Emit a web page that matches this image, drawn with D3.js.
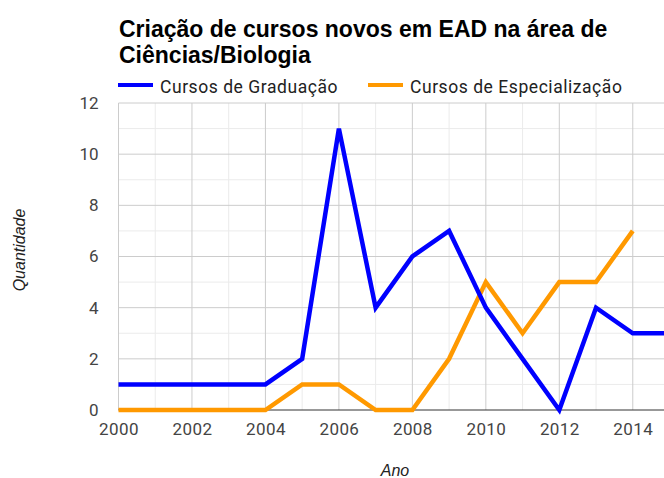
<!DOCTYPE html>
<html><head><meta charset="utf-8">
<script src="https://cdn.jsdelivr.net/npm/d3@7"></script>
<style>body{margin:0;background:#fff;overflow:hidden}svg{display:block}text{font-family:"Liberation Sans",Arial,sans-serif}</style>
</head><body><svg id="c" width="664" height="478"></svg>
<script>
const years = [2000,2001,2002,2003,2004,2005,2006,2007,2008,2009,2010,2011,2012,2013,2014,2015];
const graduacao = [1,1,1,1,1,2,11,4,6,7,4,2,0,4,3,3];
const espYears = [2000,2001,2002,2003,2004,2005,2006,2007,2008,2009,2010,2011,2012,2013,2014];
const especializacao = [0,0,0,0,0,1,1,0,0,2,5,3,5,5,7];
const xTicks = [2000,2002,2004,2006,2008,2010,2012,2014];
const yTicks = [0,2,4,6,8,10,12];
const titleLines = ["Criação de cursos novos em EAD na área de","Ciências/Biologia"];
const seriesNames = ["Cursos de Graduação","Cursos de Especialização"];
const colors = ["#0000ff","#ff9900"];

const svg = d3.select("#c");
const x = d3.scaleLinear().domain([2000,2015]).range([118.5,669.5]);
const y = d3.scaleLinear().domain([0,12]).range([410,103]);
const tickFont = "Roboto, 'Liberation Sans', sans-serif";

const g = svg.append("g");
g.selectAll(".vminor").data(d3.range(2001,2016,2)).enter().append("line")
 .attr("x1",d=>x(d)).attr("x2",d=>x(d)).attr("y1",y(0)).attr("y2",y(12)).attr("stroke","#ebebeb");
g.selectAll(".hminor").data(d3.range(1,12,2)).enter().append("line")
 .attr("x1",x(2000)).attr("x2",664).attr("y1",d=>y(d)).attr("y2",d=>y(d)).attr("stroke","#ebebeb");
g.selectAll(".vmajor").data(xTicks).enter().append("line")
 .attr("x1",d=>x(d)).attr("x2",d=>x(d)).attr("y1",y(0)).attr("y2",y(12)).attr("stroke","#cccccc");
g.selectAll(".hmajor").data(yTicks.filter(d=>d>0)).enter().append("line")
 .attr("x1",x(2000)).attr("x2",664).attr("y1",d=>y(d)).attr("y2",d=>y(d)).attr("stroke","#cccccc");

const xAxis = d3.axisBottom(x).tickValues(xTicks).tickFormat(d3.format("d")).tickSize(0).tickPadding(13);
const xa = svg.append("g").attr("transform",`translate(0,${y(0)})`).call(xAxis);
xa.select(".domain").remove();
xa.selectAll("text").attr("fill","#444").attr("font-size",17).style("font-family",tickFont).style("letter-spacing","0.4px");
const yAxis = d3.axisLeft(y).tickValues(yTicks).tickSize(0).tickPadding(20);
const ya = svg.append("g").attr("transform",`translate(${x(2000)},0)`).call(yAxis);
ya.select(".domain").remove();
ya.selectAll("text").attr("fill","#444").attr("font-size",17).style("font-family",tickFont);

svg.append("line").attr("x1",x(2000)).attr("x2",664).attr("y1",y(0)).attr("y2",y(0)).attr("stroke","#333").attr("stroke-width",1);

const line = d3.line().x(d=>x(d[0])).y(d=>y(d[1]));
svg.append("path").datum(espYears.map((yr,i)=>[yr,especializacao[i]]))
 .attr("d",line).attr("fill","none").attr("stroke",colors[1]).attr("stroke-width",4.5).attr("stroke-linejoin","miter");
svg.append("path").datum(years.map((yr,i)=>[yr,graduacao[i]]))
 .attr("d",line).attr("fill","none").attr("stroke",colors[0]).attr("stroke-width",4.5).attr("stroke-linejoin","miter");

svg.selectAll(".title").data(titleLines).enter().append("text")
 .attr("x",119).attr("y",(d,i)=>36.5+i*26.7).attr("font-size",23).attr("font-weight","bold").attr("fill","#000").text(d=>d);

const legX = [118,368];
seriesNames.forEach((n,i)=>{
  svg.append("line").attr("x1",legX[i]).attr("x2",legX[i]+35).attr("y1",85).attr("y2",85).attr("stroke",colors[i]).attr("stroke-width",4);
  svg.append("text").attr("x",legX[i]+42).attr("y",92.5).attr("font-size",17.5).style("font-family",tickFont).style("letter-spacing","0.55px").attr("fill","#222").text(n);
});

svg.append("text").attr("x",395).attr("y",475.5).attr("text-anchor","middle").attr("font-size",16).attr("font-style","italic").attr("fill","#222").text("Ano");
svg.append("text").attr("transform","translate(25,250) rotate(-90)").attr("text-anchor","middle").attr("font-size",16).attr("font-style","italic").attr("fill","#222").text("Quantidade");
</script></body></html>
